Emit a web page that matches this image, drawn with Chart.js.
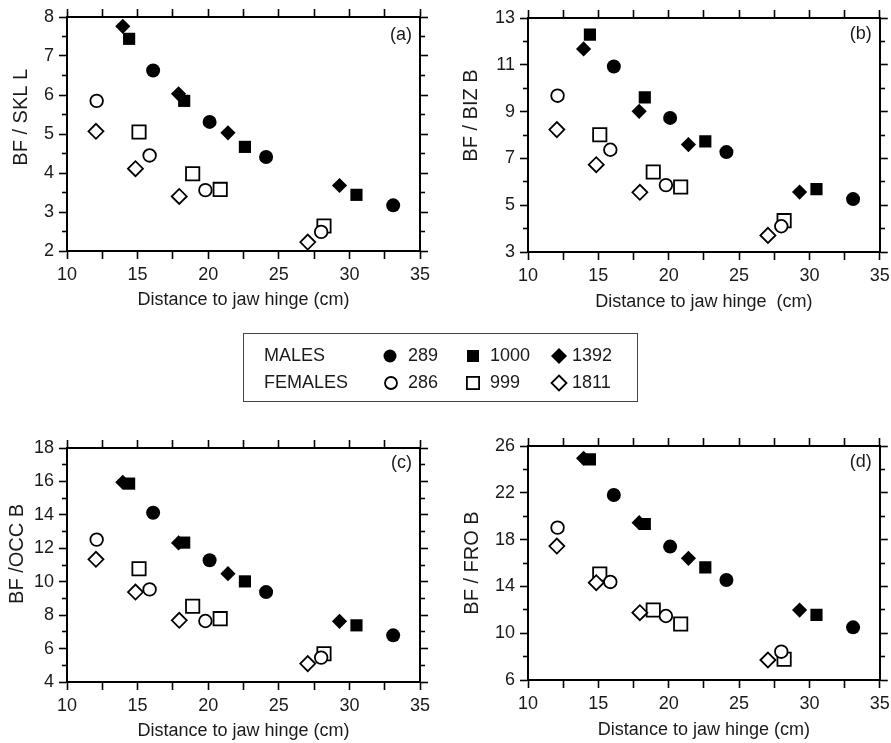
<!DOCTYPE html>
<html>
<head>
<meta charset="utf-8">
<title>BF ratios vs distance to jaw hinge</title>
<script src="https://cdn.jsdelivr.net/npm/chart.js@4.4.1/dist/chart.umd.min.js"></script>
<style>
  html, body { margin: 0; padding: 0; background: #fff; overflow: hidden; }
  body { width: 891px; height: 743px; position: relative; font-family: "Liberation Sans", Arial, sans-serif; color: #1a1a1a; }
  canvas { position: absolute; }
  #panelA { left: 0; top: 0; }
  #panelB { left: 445px; top: 0; }
  #panelC { left: 0; top: 370px; }
  #panelD { left: 445px; top: 370px; }
  #legend { position: absolute; left: 243px; top: 333px; width: 395px; height: 69px; box-sizing: border-box; border: 1.5px solid #444; }
  #legend span, #legend svg { position: absolute; }
  #legend span { font-size: 18px; line-height: 20px; }
</style>
</head>
<body>
<canvas id="panelA" width="445" height="318"></canvas>
<canvas id="panelB" width="446" height="318"></canvas>
<canvas id="panelC" width="445" height="373"></canvas>
<canvas id="panelD" width="446" height="373"></canvas>

<div id="legend">
  <span style="left:20px; top:11px">MALES</span>
  <span style="left:20px; top:38px">FEMALES</span>

  <svg style="left:138px; top:14px" width="16" height="16"><circle cx="8" cy="8" r="6.5" fill="#000"/></svg>
  <span style="left:164px; top:11px">289</span>
  <svg style="left:221px; top:14px" width="16" height="16"><rect x="2" y="2" width="12" height="12" fill="#000"/></svg>
  <span style="left:246px; top:11px">1000</span>
  <svg style="left:305px; top:12px" width="20" height="20"><polygon points="10,2 18,10 10,18 2,10" fill="#000"/></svg>
  <span style="left:328px; top:11px">1392</span>

  <svg style="left:139px; top:41px" width="16" height="16"><circle cx="8" cy="8" r="6" fill="#fff" stroke="#000" stroke-width="1.8"/></svg>
  <span style="left:164px; top:38px">286</span>
  <svg style="left:221px; top:41px" width="16" height="16"><rect x="1.9" y="1.9" width="12.2" height="12.2" fill="#fff" stroke="#000" stroke-width="1.8"/></svg>
  <span style="left:246px; top:38px">999</span>
  <svg style="left:305px; top:39px" width="20" height="20"><polygon points="10,2.5 17.5,10 10,17.5 2.5,10" fill="#fff" stroke="#000" stroke-width="1.8"/></svg>
  <span style="left:328px; top:38px">1811</span>
</div>

<script>
// distance to jaw hinge (cm), one array per animal
const dist289  = [16.1, 20.1, 24.1, 33.1];
const dist1000 = [14.4, 18.3, 22.6, 30.5];
const dist1392 = [13.95, 17.9, 21.4, 29.3];
const dist286  = [12.1, 15.85, 19.8, 28.0];
const dist999  = [15.1, 18.9, 20.85, 28.2];
const dist1811 = [12.05, 14.85, 17.95, 27.05];

// (a) BF / SKL L
const skl289  = [6.63, 5.31, 4.41, 3.17];
const skl1000 = [7.44, 5.85, 4.67, 3.44];
const skl1392 = [7.76, 6.03, 5.03, 3.68];
const skl286  = [5.85, 4.45, 3.56, 2.49];
const skl999  = [5.05, 3.98, 3.58, 2.64];
const skl1811 = [5.07, 4.11, 3.40, 2.23];

// (b) BF / BIZ B
const biz289  = [10.93, 8.73, 7.27, 5.26];
const biz1000 = [12.29, 9.61, 7.73, 5.69];
const biz1392 = [11.68, 9.01, 7.59, 5.56];
const biz286  = [9.68, 7.37, 5.86, 4.10];
const biz999  = [8.01, 6.42, 5.78, 4.34];
const biz1811 = [8.23, 6.73, 5.55, 3.71];

// (c) BF / OCC B
const occ289  = [14.13, 11.28, 9.38, 6.79];
const occ1000 = [15.87, 12.34, 10.02, 7.39];
const occ1392 = [15.95, 12.32, 10.48, 7.63];
const occ286  = [12.52, 9.54, 7.65, 5.46];
const occ999  = [10.78, 8.53, 7.79, 5.69];
const occ1811 = [11.34, 9.38, 7.69, 5.10];

// (d) BF / FRO B
const fro289  = [21.81, 17.40, 14.55, 10.50];
const fro1000 = [24.86, 19.33, 15.63, 11.56];
const fro1392 = [24.95, 19.45, 16.40, 11.98];
const fro286  = [19.02, 14.38, 11.47, 8.42];
const fro999  = [15.06, 11.98, 10.79, 7.77];
const fro1811 = [17.45, 14.32, 11.75, 7.71];

// axis ticks
const xRange = [10, 35];
const xTickStep = 2.5;
const xLabelStep = 5;

Chart.defaults.font.family = '"Liberation Sans", Arial, sans-serif';
Chart.defaults.font.size = 18;
Chart.defaults.color = "#1a1a1a";

const ink = "#000";

// marker looks, first entry ends up on top
const markers = [
  { id: "286",  style: "circle",  radius: 6.3, fill: "#fff", bw: 1.8 },
  { id: "1811", style: "rectRot", radius: 7.5, fill: "#fff", bw: 1.8 },
  { id: "999",  style: "rect",    radius: 9.4, fill: "#fff", bw: 1.8 },
  { id: "289",  style: "circle",  radius: 7,   fill: ink,    bw: 0 },
  { id: "1000", style: "rect",    radius: 8.6, fill: ink,    bw: 0 },
  { id: "1392", style: "rectRot", radius: 7.6, fill: ink,    bw: 0 }
];

const distances = { "289": dist289, "1000": dist1000, "1392": dist1392, "286": dist286, "999": dist999, "1811": dist1811 };

function points(xs, ys) {
  return xs.map((x, i) => ({ x: x, y: ys[i] }));
}

function isStep(v, base, step) {
  const k = (v - base) / step;
  return Math.abs(k - Math.round(k)) < 1e-6;
}

// panel letter inside the top right corner
const letterPlugin = {
  id: "panelLetter",
  afterDraw(chart, args, opts) {
    const { ctx, chartArea } = chart;
    ctx.save();
    ctx.font = '18px "Liberation Sans", Arial, sans-serif';
    ctx.fillStyle = "#1a1a1a";
    ctx.textAlign = "right";
    ctx.textBaseline = "middle";
    ctx.fillText(opts.text, chartArea.right - opts.dx, chartArea.top + opts.dy);
    ctx.restore();
  }
};

function makePanel(id, p) {
  const datasets = markers.map(m => ({
    label: m.id,
    data: points(distances[m.id], p.values[m.id]),
    pointStyle: m.style,
    pointRadius: m.radius,
    pointHoverRadius: m.radius,
    pointBackgroundColor: m.fill,
    pointBorderColor: ink,
    pointBorderWidth: m.bw,
    showLine: false
  }));

  const xGrid = { drawOnChartArea: false, drawTicks: true, tickLength: 8, tickWidth: 1.6, tickColor: ink };
  const xBorder = { display: true, color: ink, width: 2 };

  const major = v => isStep(v, p.yMin, p.yMajor);

  new Chart(document.getElementById(id), {
    type: "scatter",
    data: { datasets: datasets },
    plugins: [letterPlugin],
    options: {
      responsive: false,
      animation: false,
      events: [],
      layout: { padding: 0 },
      plugins: {
        legend: { display: false },
        tooltip: { enabled: false },
        panelLetter: { text: p.letter, dx: 8, dy: p.letterDy }
      },
      scales: {
        x: {
          type: "linear", position: "bottom", min: xRange[0], max: xRange[1],
          ticks: {
            stepSize: xTickStep, autoSkip: false, maxRotation: 0, padding: 5,
            callback: v => isStep(v, xRange[0], xLabelStep) ? String(v) : ""
          },
          grid: xGrid, border: xBorder,
          title: { display: true, text: p.xTitle, padding: { top: 0, bottom: p.xTitlePad } },
          afterFit: s => { s.height = p.bottom; s.paddingLeft = 0; s.paddingRight = 0; }
        },
        xTop: {
          type: "linear", position: "top", min: xRange[0], max: xRange[1],
          ticks: { stepSize: xTickStep, autoSkip: false, display: false },
          grid: xGrid, border: xBorder,
          afterFit: s => { s.height = p.top; s.paddingLeft = 0; s.paddingRight = 0; }
        },
        y: {
          type: "linear", position: "left", min: p.yMin, max: p.yMax,
          ticks: {
            stepSize: p.yMinor, autoSkip: false, padding: 5,
            callback: v => major(v) ? String(v) : ""
          },
          grid: {
            drawOnChartArea: false, drawTicks: true, tickLength: 8, tickWidth: 1.6, tickColor: ink,
            tickBorderDash: c => (c.tick && !major(c.tick.value)) ? [4, 3] : [],
            tickBorderDashOffset: c => (c.tick && !major(c.tick.value)) ? 4 : 0
          },
          border: { display: true, color: ink, width: 2 },
          // leading spaces lift the title a little above the axis middle, as in the original
          title: { display: true, text: p.yTitle, font: { size: 20 }, padding: { top: p.yTitlePad, bottom: 0 } },
          afterFit: s => { s.width = p.left; s.paddingTop = 0; s.paddingBottom = 0; }
        },
        yRight: {
          type: "linear", position: "right", min: p.yMin, max: p.yMax,
          ticks: { stepSize: p.yMinor, autoSkip: false, display: false },
          grid: {
            drawOnChartArea: false, drawTicks: true, tickLength: 8, tickWidth: 1.6, tickColor: ink,
            tickBorderDash: c => (c.tick && !major(c.tick.value)) ? [4, 20] : []
          },
          border: { display: true, color: ink, width: 2 },
          afterFit: s => { s.width = p.right; s.paddingTop = 0; s.paddingBottom = 0; }
        }
      }
    }
  });
}

// (a)
makePanel("panelA", {
  letter: "(a)", letterDy: 18,
  yMin: 2, yMax: 8, yMinor: 0.5, yMajor: 1,
  yTitle: "      BF / SKL L", yTitlePad: 9,
  xTitle: "Distance to jaw hinge (cm)", xTitlePad: 7,
  left: 67, right: 25, top: 17, bottom: 67,
  values: { "289": skl289, "1000": skl1000, "1392": skl1392, "286": skl286, "999": skl999, "1811": skl1811 }
});

// (b)
makePanel("panelB", {
  letter: "(b)", letterDy: 16,
  yMin: 3, yMax: 13, yMinor: 1, yMajor: 2,
  yTitle: "       BF / BIZ B", yTitlePad: 14,
  xTitle: "Distance to jaw hinge  (cm)", xTitlePad: 5,
  left: 83, right: 9, top: 18, bottom: 66,
  values: { "289": biz289, "1000": biz1000, "1392": biz1392, "286": biz286, "999": biz999, "1811": biz1811 }
});

// (c)
makePanel("panelC", {
  letter: "(c)", letterDy: 15,
  yMin: 4, yMax: 18, yMinor: 1, yMajor: 2,
  yTitle: "    BF /OCC B", yTitlePad: 5,
  xTitle: "Distance to jaw hinge (cm)", xTitlePad: 1,
  left: 67, right: 25, top: 78, bottom: 61,
  values: { "289": occ289, "1000": occ1000, "1392": occ1392, "286": occ286, "999": occ999, "1811": occ1811 }
});

// (d)
makePanel("panelD", {
  letter: "(d)", letterDy: 16,
  yMin: 6, yMax: 26, yMinor: 2, yMajor: 4,
  yTitle: "BF / FRO B", yTitlePad: 15,
  xTitle: "Distance to jaw hinge (cm)", xTitlePad: 2,
  left: 83, right: 9, top: 76, bottom: 63,
  values: { "289": fro289, "1000": fro1000, "1392": fro1392, "286": fro286, "999": fro999, "1811": fro1811 }
});
</script>
</body>
</html>
